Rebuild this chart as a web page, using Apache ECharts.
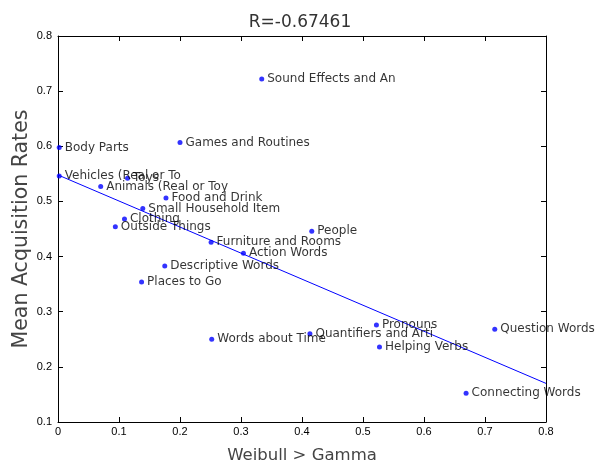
<!DOCTYPE html>
<html><head><meta charset="utf-8">
<script src="https://cdn.jsdelivr.net/npm/echarts@6/dist/echarts.min.js"></script>
<style>html,body{margin:0;padding:0;background:#fff}#c{width:600px;height:467px}</style>
</head><body><div id="c"></div>
<script>
var names = ["Sound Effects and An","Games and Routines","Body Parts","Vehicles (Real or To","Toys","Animals (Real or Toy","Food and Drink","Small Household Item","Clothing","Outside Things","Furniture and Rooms","Action Words","Descriptive Words","Places to Go","People","Words about Time","Quantifiers and Arti","Pronouns","Helping Verbs","Question Words","Connecting Words"];
var xVals = [0.334,0.200,0.002,0.002,0.114,0.070,0.177,0.139,0.109,0.094,0.251,0.304,0.175,0.137,0.416,0.252,0.413,0.522,0.527,0.716,0.669];
var yVals = [0.722,0.607,0.598,0.546,0.542,0.527,0.506,0.487,0.468,0.454,0.426,0.406,0.383,0.354,0.446,0.250,0.260,0.276,0.236,0.268,0.152];
var fitX = [0, 0.8];
var fitY = [0.548, 0.170];
var titleText = "R=-0.67461";

var pts = names.map(function(n,i){return {name:n, value:[xVals[i], yVals[i]]};});
var fit = fitX.map(function(x,i){return [x, fitY[i]];});
var font = "Liberation Sans, Arial, sans-serif";
var wide = "DejaVu Sans, sans-serif";
var chart = echarts.init(document.getElementById('c'));
var axisCommon = {
  axisLine:{show:true, onZero:false, lineStyle:{color:'#000', width:1}},
  axisTick:{show:true, inside:true, length:5, lineStyle:{color:'#000'}},
  splitLine:{show:false}
};
chart.setOption({
  animation:false,
  title:{text:titleText, left:'center', top:9, textStyle:{fontFamily:wide, fontWeight:'normal', fontSize:17, color:'#333'}},
  grid:{left:58, right:54, top:36, bottom:45, containLabel:false, outerBoundsMode:'none'},
  xAxis:[
    Object.assign({type:'value', min:0, max:0.8, interval:0.1, position:'bottom',
      name:'Weibull > Gamma', nameLocation:'middle', nameGap:25, nameMoveOverlap:false,
      nameTextStyle:{fontFamily:wide, fontSize:16.5, color:'#444'},
      axisLabel:{fontFamily:font, fontSize:11, color:'#000', margin:4,
        formatter:function(v){return v===0?'0':v.toFixed(1);}}}, axisCommon),
    Object.assign({type:'value', min:0, max:0.8, interval:0.1, position:'top', axisLabel:{show:false}}, axisCommon)
  ],
  yAxis:[
    Object.assign({type:'value', min:0.1, max:0.8, interval:0.1, position:'left',
      name:'Mean Acquisition Rates', nameLocation:'middle', nameGap:26, nameMoveOverlap:false,
      nameTextStyle:{fontFamily:wide, fontSize:20.5, color:'#444'},
      axisLabel:{fontFamily:font, fontSize:11, color:'#000', margin:6,
        formatter:function(v){return v.toFixed(1);}}}, axisCommon),
    Object.assign({type:'value', min:0.1, max:0.8, interval:0.1, position:'right', axisLabel:{show:false}}, axisCommon)
  ],
  series:[
    {type:'line', data:fit, symbol:'none', lineStyle:{color:'#0000ff', width:1}, z:2},
    {type:'scatter', data:pts, symbol:'circle', symbolSize:5, itemStyle:{color:'#0000ff'}, z:3,
      label:{show:true, position:'right', distance:3, formatter:'{b}', fontFamily:wide, fontSize:12, color:'#000'}}
  ]
});
</script></body></html>
